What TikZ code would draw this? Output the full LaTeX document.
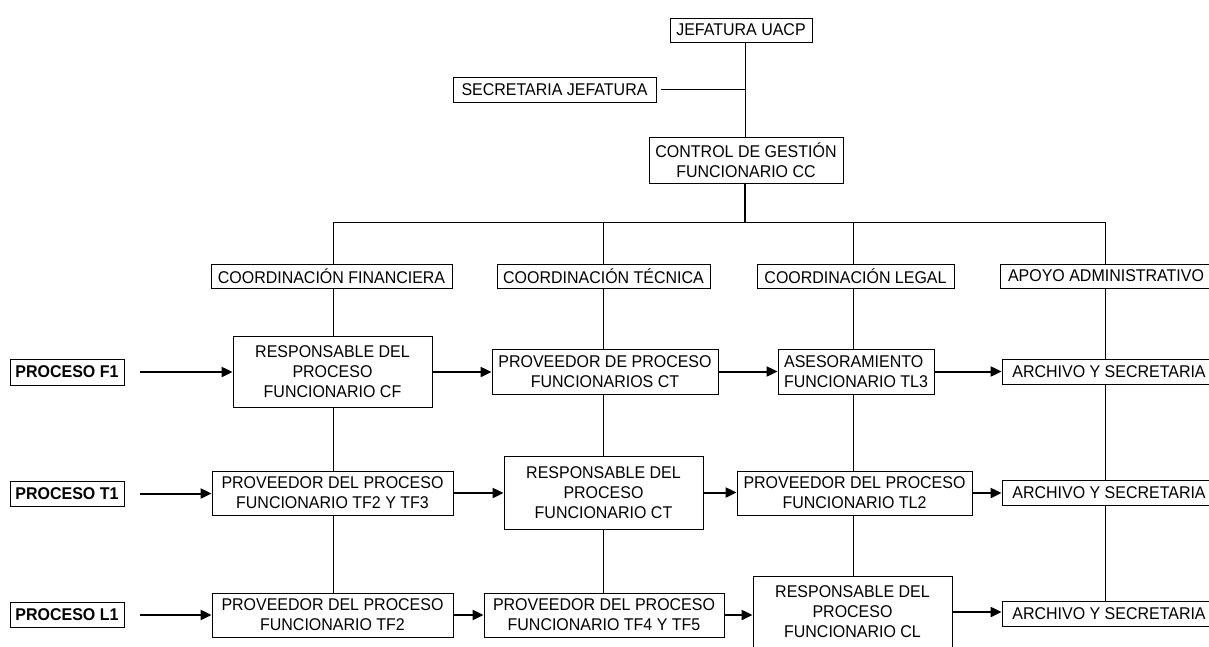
\documentclass[tikz,border=0pt]{standalone}
\usepackage{fontspec}
\setmainfont{Liberation Sans}[FakeStretch=0.94]
\usetikzlibrary{arrows.meta}
\begin{document}
\begin{tikzpicture}[x=1pt,y=-1pt,
  box/.style={draw, line width=0.8pt, fill=white, inner sep=0pt, align=center,
    font=\fontsize{17}{20}\selectfont},
  procbox/.style={box, font=\fontsize{17}{20}\selectfont\bfseries},
  link/.style={line width=0.9pt},
  trunkline/.style={line width=1.8pt},
  arr/.style={line width=2pt, -{Triangle[length=11pt,width=10pt]}}]
\useasboundingbox (0,0) rectangle (1209,646);
\clip (0,0) rectangle (1209,646);

% upper management
\node[box, minimum width=142, minimum height=24] (jef) at (741,30) {JEFATURA UACP};
\node[box, minimum width=203, minimum height=25] (sec) at (554.5,89.5) {SECRETARIA JEFATURA};
\node[box, minimum width=194, minimum height=46] (ctrl) at (746,160) {CONTROL DE GESTIÓN\\FUNCIONARIO CC};

% coordinations
\node[box, minimum width=241, minimum height=24] (cf) at (331.5,276) {COORDINACIÓN FINANCIERA};
\node[box, minimum width=213, minimum height=24] (ct) at (603.5,276) {COORDINACIÓN TÉCNICA};
\node[box, minimum width=197, minimum height=24] (cl) at (855.5,276) {COORDINACIÓN LEGAL};
\node[box, minimum width=212, minimum height=24] (ad) at (1106,276) {APOYO ADMINISTRATIVO};

% process F1
\node[procbox, minimum width=114, minimum height=26] (p1) at (67,372) {PROCESO F1};
\node[box, minimum width=199, minimum height=71] (r1a) at (332.5,372) {RESPONSABLE DEL\\PROCESO\\FUNCIONARIO CF};
\node[box, minimum width=226, minimum height=45] (r1b) at (605,371.5) {PROVEEDOR DE PROCESO\\FUNCIONARIOS CT};
\node[box, minimum width=156, minimum height=45, align=left] (r1c) at (856,371.5) {ASESORAMIENTO\\FUNCIONARIO TL3};
\node[box, minimum width=214, minimum height=25] (r1d) at (1109,372) {ARCHIVO Y SECRETARIA};

% process T1
\node[procbox, minimum width=114, minimum height=25] (p2) at (67,493.5) {PROCESO T1};
\node[box, minimum width=241, minimum height=44] (r2a) at (332.5,493) {PROVEEDOR DEL PROCESO\\FUNCIONARIO TF2 Y TF3};
\node[box, minimum width=199, minimum height=73] (r2b) at (603.5,492.5) {RESPONSABLE DEL\\PROCESO\\FUNCIONARIO CT};
\node[box, minimum width=235, minimum height=44] (r2c) at (854.5,493) {PROVEEDOR DEL PROCESO\\FUNCIONARIO TL2};
\node[box, minimum width=214, minimum height=25] (r2d) at (1109,493) {ARCHIVO Y SECRETARIA};

% process L1
\node[procbox, minimum width=114, minimum height=25] (p3) at (67,615) {PROCESO L1};
\node[box, minimum width=241, minimum height=44] (r3a) at (332.5,615) {PROVEEDOR DEL PROCESO\\FUNCIONARIO TF2};
\node[box, minimum width=240, minimum height=44] (r3b) at (604,615) {PROVEEDOR DEL PROCESO\\FUNCIONARIO TF4 Y TF5};
\node[box, minimum width=199, minimum height=71] (r3c) at (852.5,612) {RESPONSABLE DEL\\PROCESO\\FUNCIONARIO CL};
\node[box, minimum width=214, minimum height=25] (r3d) at (1109,614) {ARCHIVO Y SECRETARIA};

% hierarchy connectors
\coordinate (t) at (745,91);
\coordinate (bus) at (745,222);
\coordinate (k1) at (333,222);
\coordinate (k2) at (603,222);
\coordinate (k3) at (853,222);
\coordinate (k4) at (1105,222);
\draw[link] (jef.south -| t) -- (ctrl.north -| t);
\draw[link] ([xshift=5pt]sec.east) -- (sec.east -| t);
\draw[trunkline] (ctrl.south -| bus) -- (bus);
\draw[link] (k1) -- (k4);
\foreach \k/\c/\a/\b/\d in {k1/cf/r1a/r2a/r3a, k2/ct/r1b/r2b/r3b, k3/cl/r1c/r2c/r3c, k4/ad/r1d/r2d/r3d}{
  \draw[link] (\k) -- (\k |- \c.north);
  \draw[link] (\k |- \c.south) -- (\k |- \a.north);
  \draw[link] (\k |- \a.south) -- (\k |- \b.north);
  \draw[link] (\k |- \b.south) -- (\k |- \d.north);
}

% process flows
\foreach \p/\a/\b/\c/\d in {p1/r1a/r1b/r1c/r1d, p2/r2a/r2b/r2c/r2d, p3/r3a/r3b/r3c/r3d}{
  \draw[arr] ([xshift=16pt]\p.east) -- (\p.east -| \a.west);
  \draw[arr] (\a.east) -- (\a.east -| \b.west);
  \draw[arr] (\b.east) -- (\b.east -| \c.west);
  \draw[arr] (\c.east) -- (\c.east -| \d.west);
}
\end{tikzpicture}
\end{document}
